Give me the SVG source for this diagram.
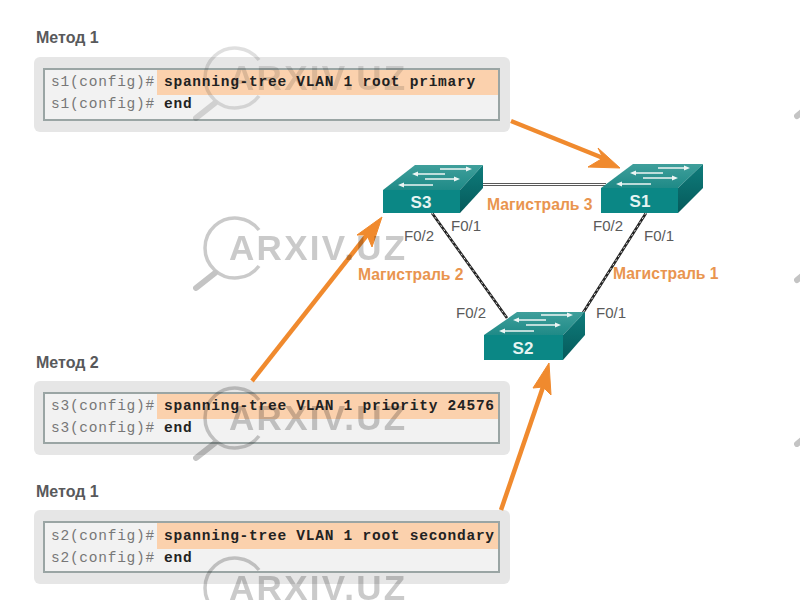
<svg xmlns="http://www.w3.org/2000/svg" width="800" height="600" viewBox="0 0 800 600">
<style>
.title{font:bold 16px "Liberation Sans",Arial,sans-serif;fill:#58595b}
.outer{fill:#e6e6e6}
.inner{fill:#f2f2f2;stroke:#9aa5a4;stroke-width:2}
.hl{fill:#fbd1ad}
.pr{font:14.5px "Liberation Mono",monospace;letter-spacing:.75px;fill:#777}
.cmd{font:bold 14.5px "Liberation Mono",monospace;letter-spacing:.75px;fill:#222}
.port{font:15px "Liberation Sans",Arial,sans-serif;fill:#5a5a5a}
.trunk{font:bold 15.700px "Liberation Sans",Arial,sans-serif;fill:#e9954f}
.name{font:bold 17px "Liberation Sans",Arial,sans-serif;fill:#e6f4f2;text-anchor:middle}
.top{fill:url(#tg)}.front{fill:#0b8785}.side{fill:url(#sg)}
.ar{fill:none;stroke:#eef5f4;stroke-width:1.3}
.arh{fill:#eef5f4}
.lb{stroke:#222;stroke-width:2.6;fill:none}
.ld{stroke:#fff;stroke-width:.9;stroke-dasharray:2 3;fill:none}
.ls{stroke:#fff;stroke-width:1;fill:none}
.oa{stroke:#f08a2e;stroke-width:4.5;fill:none}
.oh{fill:#f08a2e;stroke:#f08a2e;stroke-width:1;stroke-linejoin:round}
.wm{font:bold 35px "Liberation Sans",Arial,sans-serif;letter-spacing:2.300px;fill:#bdbdbd;fill-opacity:.8}
.wc{fill:none;stroke:#bdbdbd;stroke-opacity:.8;stroke-width:3.5}
.wh{fill:none;stroke:#c4c4c4;stroke-width:6;stroke-linecap:round}
#watermark{mix-blend-mode:multiply}
</style>
<defs>
<linearGradient id="tg" x1="0" y1="0" x2="0" y2="1"><stop offset="0" stop-color="#3f9f9b"/><stop offset="1" stop-color="#1f8a87"/></linearGradient>
<linearGradient id="sg" x1="0" y1="0" x2="0" y2="1"><stop offset="0" stop-color="#0f7c7b"/><stop offset="1" stop-color="#055a5b"/></linearGradient>
<g id="icon">
<path class="ar" d="M57 -21H85M33 -16H62M42 -11H73M19 -5H50"/>
<path class="arh" d="M89 -21L83 -23.500V-18.500ZM29 -16L35 -18.500V-13.500ZM77 -11L71 -13.500V-8.500ZM15 -5L21 -7.500V-2.500Z"/>
</g>
<g id="mark">
<path class="wc" d="M24 -18A30 30 0 1 0 24 18"/>
<path class="wh" d="M-39 40L-20 25"/>
<text class="wm" x="-6" y="12">ARXIV.UZ</text>
</g>
</defs>
<rect width="800" height="600" fill="#fff"/>

<g id="panel-1">
<text class="title" x="36" y="43">Метод 1</text>
<rect class="outer" x="34" y="57" width="476" height="75" rx="6"/>
<rect class="inner" x="44" y="69" width="455" height="51"/>
<rect class="hl" x="157" y="70" width="341" height="25"/>
<text class="pr" x="51" y="86">s1(config)#</text><text class="cmd" x="164" y="86">spanning-tree VLAN 1 root primary</text>
<text class="pr" x="51" y="108">s1(config)#</text><text class="cmd" x="164" y="108">end</text>
</g>
<g id="panel-2">
<text class="title" x="36" y="368">Метод 2</text>
<rect class="outer" x="34" y="381" width="476" height="74" rx="6"/>
<rect class="inner" x="44" y="393" width="455" height="50"/>
<rect class="hl" x="157" y="394" width="341" height="25"/>
<text class="pr" x="51" y="410">s3(config)#</text><text class="cmd" x="164" y="410">spanning-tree VLAN 1 priority 24576</text>
<text class="pr" x="51" y="432">s3(config)#</text><text class="cmd" x="164" y="432">end</text>
</g>
<g id="panel-3">
<text class="title" x="36" y="497">Метод 1</text>
<rect class="outer" x="34" y="510" width="476" height="74" rx="6"/>
<rect class="inner" x="44" y="522" width="455" height="50"/>
<rect class="hl" x="157" y="523" width="341" height="26"/>
<text class="pr" x="51" y="540">s2(config)#</text><text class="cmd" x="164" y="540">spanning-tree VLAN 1 root secondary</text>
<text class="pr" x="51" y="562">s2(config)#</text><text class="cmd" x="164" y="562">end</text>
</g>

<g id="connectors">
<path class="lb" d="M480 184.500H606"/><path class="ls" d="M480 184.500H606"/>
<path class="lb" d="M432 213L507 318"/><path class="ld" d="M432 213L507 318"/>
<path class="lb" d="M646 213L581 316"/><path class="ld" d="M646 213L581 316"/>
<path class="oa" d="M511 121L603 158"/>
<polygon class="oh" points="620,168 588,167 603,158 598,148"/>
<path class="oa" d="M252 381L367 235"/>
<polygon class="oh" points="382,217 372,247 367,235 357,235"/>
<path class="oa" d="M501 510L543 387"/>
<polygon class="oh" points="549,363 551,395 543,387 533,388"/>
</g>

<g id="s3">
<polygon class="top" points="383,190 415,165 483,165 460,190"/>
<polygon class="front" points="383,190 460,190 460,213 383,213"/>
<polygon class="side" points="460,190 483,165 483,188 460,213"/>
<use href="#icon" x="383" y="190"/>
<text class="name" x="421" y="208">S3</text>
</g>
<g id="s1">
<polygon class="top" points="601,188 633,164 703,164 678,188"/>
<polygon class="front" points="601,188 678,188 678,213 601,213"/>
<polygon class="side" points="678,188 703,164 703,188 678,213"/>
<use href="#icon" x="601" y="189"/>
<text class="name" x="640" y="207">S1</text>
</g>
<g id="s2">
<polygon class="top" points="484,335 517,312 585,312 563,335"/>
<polygon class="front" points="484,335 563,335 563,360 484,360"/>
<polygon class="side" points="563,335 585,312 585,335 563,360"/>
<use href="#icon" x="484" y="336"/>
<text class="name" x="523" y="354">S2</text>
</g>

<g id="labels">
<text class="port" x="451" y="231">F0/1</text>
<text class="port" x="404" y="241">F0/2</text>
<text class="port" x="593" y="231">F0/2</text>
<text class="port" x="644" y="241">F0/1</text>
<text class="port" x="456" y="318">F0/2</text>
<text class="port" x="596" y="318">F0/1</text>
<text class="trunk" x="487" y="210">Магистраль 3</text>
<text class="trunk" x="358" y="280">Магистраль 2</text>
<text class="trunk" x="613" y="279">Магистраль 1</text>
</g>

<g id="watermark">
<use href="#mark" x="235" y="78" opacity=".6"/>
<use href="#mark" x="235" y="248"/>
<use href="#mark" x="235" y="418"/>
<use href="#mark" x="235" y="588"/>
<path class="wh" d="M797 116L803 111"/>
<path class="wh" d="M797 280L803 275"/>
<path class="wh" d="M797 444L803 439"/>
</g>
</svg>
